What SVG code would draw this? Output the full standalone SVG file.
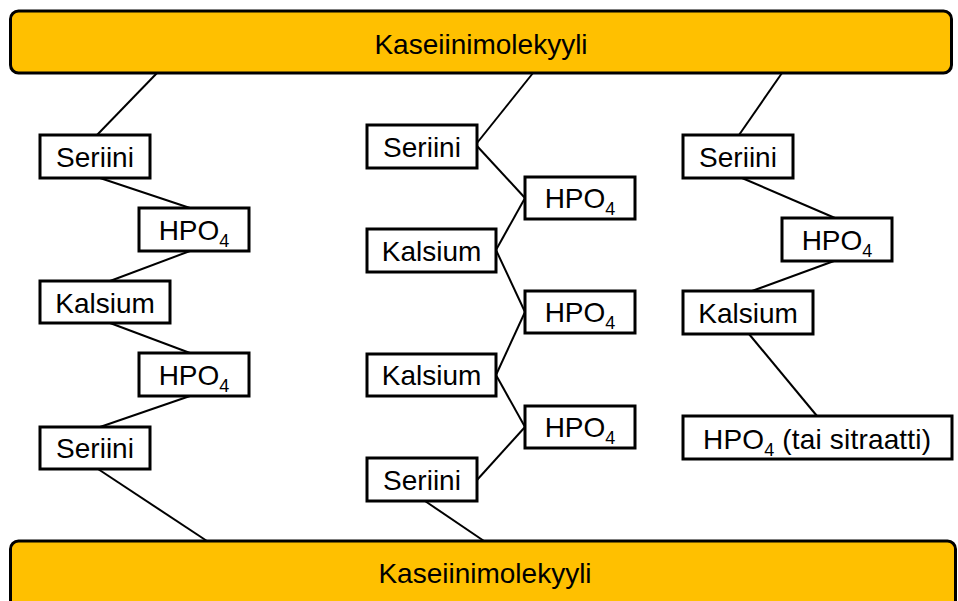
<svg xmlns="http://www.w3.org/2000/svg" width="958" height="601" viewBox="0 0 958 601">
<style>
.bar{fill:#FFC000;stroke:#000;stroke-width:3}
.box{fill:#fff;stroke:#000;stroke-width:3}
.t{font-family:"Liberation Sans",Arial,sans-serif;font-size:28px;fill:#000;text-anchor:middle}
.bt{font-family:"Liberation Sans",Arial,sans-serif;font-size:28px;fill:#000;text-anchor:middle}
.sub{font-size:18px}
#connectors line{stroke:#000;stroke-width:2;fill:none}
</style>
<rect width="958" height="601" fill="#fff"/>
<g id="connectors">
<line x1="157" y1="73" x2="97" y2="135"/>
<line x1="100" y1="178" x2="190" y2="208"/>
<line x1="190" y1="251" x2="110" y2="281"/>
<line x1="110" y1="323" x2="190" y2="353"/>
<line x1="190" y1="396" x2="100" y2="427"/>
<line x1="98" y1="469" x2="207" y2="541"/>
<line x1="533" y1="73" x2="477" y2="143"/>
<line x1="477" y1="146" x2="525" y2="198"/>
<line x1="525" y1="198" x2="496" y2="250"/>
<line x1="496" y1="250" x2="525" y2="312"/>
<line x1="525" y1="312" x2="496" y2="375"/>
<line x1="496" y1="375" x2="525" y2="427"/>
<line x1="525" y1="427" x2="477" y2="480"/>
<line x1="425" y1="501" x2="484" y2="541"/>
<line x1="782" y1="73" x2="739" y2="135"/>
<line x1="742" y1="178" x2="835" y2="218"/>
<line x1="834" y1="261" x2="752" y2="291"/>
<line x1="749" y1="334" x2="817" y2="416"/>
</g>
<g id="top-bar">
<rect class="bar" x="10.5" y="11" width="941" height="62" rx="8"/>
<text class="bt" x="481" y="54">Kaseiinimolekyyli</text>
</g>
<g id="bottom-bar">
<rect class="bar" x="10.5" y="541" width="945" height="75" rx="8"/>
<text class="bt" x="485" y="583">Kaseiinimolekyyli</text>
</g>
<g id="l-seriini1"><rect class="box" x="40" y="135" width="110" height="43"/><text class="t" x="95" y="167">Seriini</text></g>
<g id="l-hpo4a"><rect class="box" x="139" y="208" width="110" height="43"/><text class="t" x="194" y="240"><tspan>HPO</tspan><tspan class="sub" dy="7">4</tspan></text></g>
<g id="l-kalsium1"><rect class="box" x="40" y="281" width="130" height="42"/><text class="t" x="105" y="313">Kalsium</text></g>
<g id="l-hpo4b"><rect class="box" x="139" y="353" width="110" height="43"/><text class="t" x="194" y="385"><tspan>HPO</tspan><tspan class="sub" dy="7">4</tspan></text></g>
<g id="l-seriini2"><rect class="box" x="40" y="427" width="110" height="42"/><text class="t" x="95" y="458">Seriini</text></g>
<g id="m-seriini1"><rect class="box" x="367" y="125" width="110" height="43"/><text class="t" x="422" y="157">Seriini</text></g>
<g id="m-hpo4a"><rect class="box" x="525" y="177" width="110" height="42"/><text class="t" x="580" y="208"><tspan>HPO</tspan><tspan class="sub" dy="7">4</tspan></text></g>
<g id="m-kalsium1"><rect class="box" x="367" y="229" width="129" height="43"/><text class="t" x="431.5" y="261">Kalsium</text></g>
<g id="m-hpo4b"><rect class="box" x="525" y="291" width="110" height="42"/><text class="t" x="580" y="322"><tspan>HPO</tspan><tspan class="sub" dy="7">4</tspan></text></g>
<g id="m-kalsium2"><rect class="box" x="367" y="354" width="129" height="42"/><text class="t" x="431.5" y="385">Kalsium</text></g>
<g id="m-hpo4c"><rect class="box" x="525" y="406" width="110" height="42"/><text class="t" x="580" y="437"><tspan>HPO</tspan><tspan class="sub" dy="7">4</tspan></text></g>
<g id="m-seriini2"><rect class="box" x="367" y="458" width="110" height="43"/><text class="t" x="422" y="490">Seriini</text></g>
<g id="r-seriini"><rect class="box" x="683" y="135" width="110" height="43"/><text class="t" x="738" y="167">Seriini</text></g>
<g id="r-hpo4"><rect class="box" x="782" y="218" width="110" height="43"/><text class="t" x="837" y="250"><tspan>HPO</tspan><tspan class="sub" dy="7">4</tspan></text></g>
<g id="r-kalsium"><rect class="box" x="683" y="291" width="130" height="43"/><text class="t" x="748" y="323">Kalsium</text></g>
<g id="r-hpo4-sitraatti"><rect class="box" x="683" y="416" width="269" height="43"/><text class="t" x="817" y="449" textLength="228" lengthAdjust="spacing"><tspan>HPO</tspan><tspan class="sub" dy="7">4</tspan><tspan dy="-7"> (tai sitraatti)</tspan></text></g>
</svg>
